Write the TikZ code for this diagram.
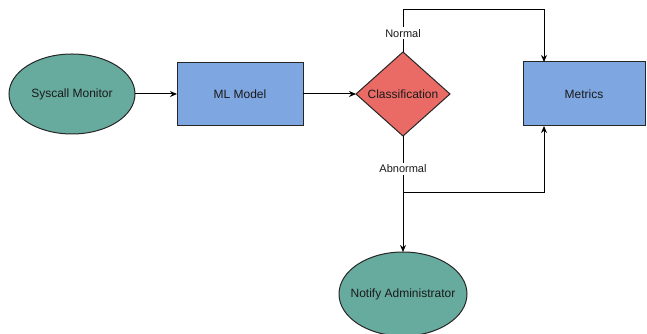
\documentclass[tikz,border=0pt]{standalone}
\usepackage{fontspec}
\setmainfont{Liberation Sans}
\usepackage{tikz}
\usepackage{xcolor}
\usetikzlibrary{arrows.meta,positioning,shapes.geometric}
\definecolor{termfill}{HTML}{67AB9F}
\definecolor{procfill}{HTML}{7EA6E0}
\definecolor{decfill}{HTML}{EA6B66}
\definecolor{txt}{HTML}{1A1A1A}

\begin{document}
\begin{tikzpicture}[x=1pt,y=1pt,>={Stealth[length=7pt,width=6pt]},line width=1pt,
term/.style={ellipse,draw=black!85,fill=termfill,text=txt,inner sep=0pt,outer sep=0pt,minimum width=126pt,minimum height=80pt,font=\fontsize{12}{14}\selectfont},
proc/.style={rectangle,draw=black!85,fill=procfill,text=txt,outer sep=0pt,minimum width=126pt,minimum height=63pt,font=\fontsize{12}{14}\selectfont},
decision/.style={diamond,draw=black!85,fill=decfill,text=txt,inner sep=0pt,outer sep=0pt,minimum width=94pt,minimum height=84pt,font=\fontsize{12}{14}\selectfont},
lbl/.style={fill=white,text=txt,inner sep=2pt,font=\fontsize{11}{13}\selectfont}]
\useasboundingbox (0,0) rectangle (647,334);
\node[term] (sys) at (72,240) {Syscall Monitor};
\node[proc,right=42pt of sys] (ml) {ML Model};
\node[decision,right=53pt of ml] (cls) {Classification};
\node[proc,right=73pt of cls,minimum width=122pt,minimum height=64pt] (met) {Metrics};
\node[term,below=116pt of cls,minimum width=128pt,minimum height=84pt,inner xsep=-12pt] (notify) {Notify Administrator};
\draw[->] (sys)--(ml);\draw[->] (ml)--(cls);
\draw[->] (cls.north) -- node[lbl,pos=0.45]{Normal} ++(0,42) -| ([xshift=21pt]met.north west);
\draw[->] (cls.south) -- node[lbl,pos=0.58]{Abnormal} ++(0,-57) coordinate (split) -| ([xshift=21pt]met.south west);
\draw[->] (split)--(notify);
\end{tikzpicture}
\end{document}
